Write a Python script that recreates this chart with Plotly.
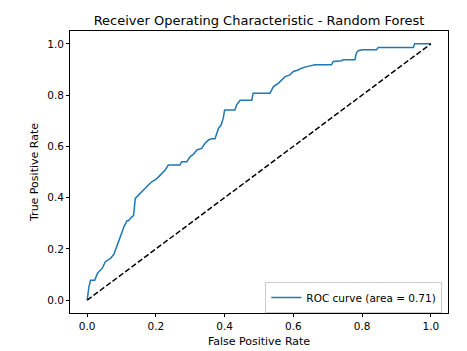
import plotly.graph_objects as go

fpr = [0.0, 0.002, 0.005, 0.01, 0.022, 0.03, 0.044, 0.053, 0.068, 0.078, 0.087, 0.097,
       0.107, 0.116, 0.12, 0.13, 0.135, 0.14, 0.149, 0.159, 0.169, 0.178, 0.188, 0.198,
       0.207, 0.217, 0.227, 0.236, 0.27, 0.275, 0.29, 0.30, 0.31, 0.319, 0.333, 0.343,
       0.353, 0.362, 0.372, 0.377, 0.382, 0.39, 0.396, 0.40, 0.43, 0.435, 0.445, 0.479,
       0.483, 0.532, 0.542, 0.556, 0.566, 0.576, 0.59, 0.60, 0.614, 0.624, 0.639, 0.663,
       0.711, 0.716, 0.74, 0.745, 0.779, 0.784, 0.789, 0.80, 0.842, 0.847, 0.949, 0.953,
       1.0]
tpr = [0.0, 0.03, 0.052, 0.078, 0.078, 0.105, 0.125, 0.15, 0.163, 0.18, 0.215, 0.247,
       0.286, 0.31, 0.31, 0.325, 0.33, 0.397, 0.41, 0.423, 0.436, 0.449, 0.462, 0.469,
       0.48, 0.495, 0.508, 0.527, 0.527, 0.54, 0.54, 0.56, 0.57, 0.586, 0.592, 0.612,
       0.625, 0.63, 0.63, 0.65, 0.67, 0.684, 0.71, 0.742, 0.742, 0.762, 0.78, 0.78,
       0.807, 0.807, 0.833, 0.846, 0.859, 0.872, 0.879, 0.892, 0.898, 0.905, 0.911, 0.918,
       0.918, 0.931, 0.934, 0.9375, 0.9375, 0.966, 0.973, 0.977, 0.977, 0.986, 0.986, 1.0,
       1.0]
roc_auc = 0.71
diag = [0.0, 1.0]
tickvals = [0.0, 0.2, 0.4, 0.6, 0.8, 1.0]

font = "DejaVu Sans, Verdana, sans-serif"

fig = go.Figure()
fig.add_trace(go.Scatter(x=fpr, y=tpr, mode="lines",
                         line=dict(color="#1f77b4", width=1.5),
                         name=f"ROC curve (area = {roc_auc:.2f})"))
fig.add_trace(go.Scatter(x=diag, y=diag, mode="lines",
                         line=dict(color="black", width=1.5, dash="5.5px,2.4px"),
                         showlegend=False))

axis_common = dict(
    showgrid=False, zeroline=False, showline=True, linecolor="black", linewidth=0.8,
    mirror=True, ticks="outside", ticklen=3, tickwidth=0.8, tickcolor="black",
    tickvals=tickvals, tickformat=".1f", automargin=False,
    tickfont=dict(family=font, size=10.5, color="black"),
)
fig.update_xaxes(range=[-0.05, 1.05], title=dict(text="False Positive Rate",
                 font=dict(family=font, size=11, color="black"), standoff=6), **axis_common)
fig.update_yaxes(range=[-0.05, 1.05], title=dict(text="True Positive Rate",
                 font=dict(family=font, size=11, color="black"), standoff=6), **axis_common)

fig.update_layout(
    width=467, height=351,
    margin=dict(l=70, r=19, t=31, b=38),
    paper_bgcolor="white", plot_bgcolor="white",
    title=dict(text="Receiver Operating Characteristic - Random Forest",
               font=dict(family=font, size=13, color="black"),
               x=(70 + 448) / 2 / 467, xanchor="center", y=1 - 20 / 351, yanchor="middle"),
    legend=dict(x=0.985, xanchor="right", y=0.0, yanchor="bottom",
                bordercolor="#cccccc", borderwidth=1, bgcolor="rgba(255,255,255,0.8)",
                font=dict(family=font, size=10.5, color="black"),
                tracegroupgap=0, itemwidth=30),
    showlegend=True,
)

fig.write_html("out.html")
